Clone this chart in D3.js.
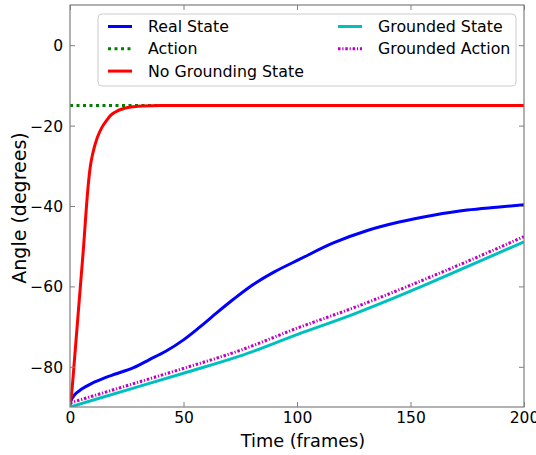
<!DOCTYPE html>
<html>
<head>
<meta charset="utf-8">
<script src="https://cdn.jsdelivr.net/npm/d3@7"></script>
<style>
  body { margin: 0; background: #fff; }
  text { font-family: "DejaVu Sans", sans-serif; fill: #000; }
</style>
</head>
<body>
<div id="chart"></div>
<script>
// Data (time in frames, angle in degrees)
const realTime = [0, 2, 5, 10, 15, 20, 28, 35, 42, 50, 57, 65, 72, 79, 90, 101, 116, 131, 145, 160, 175, 188, 200];
const realState = [-88.8, -87, -85.6, -84, -82.8, -81.8, -80.2, -78.2, -76.2, -73.3, -70.2, -66.4, -63.2, -60.2, -56.4, -53.3, -49.2, -46.1, -44, -42.3, -41, -40.3, -39.7];

const actionTime = [0, 200];
const action = [-15, -15];

const noGroundTime = [0, 1, 2, 3, 4, 5, 6, 7, 8, 9, 10, 12, 14, 16, 18, 20, 24, 28, 32, 40, 200];
const noGroundState = [-90, -85, -78, -71, -64, -57, -50, -42, -35, -30, -27, -23, -20.5, -18.8, -17.4, -16.6, -15.7, -15.3, -15.1, -15, -15];

const groundTime = [0, 25, 50, 75, 100, 125, 150, 175, 200];
const groundedState = [-90, -85.8, -81.6, -77.3, -72, -66.9, -61.2, -55.1, -48.9];
const groundedAction = [-89, -84.7, -80.4, -75.9, -70.4, -65.3, -59.7, -53.8, -47.6];

const xTicks = [0, 50, 100, 150, 200];
const yTicks = [0, -20, -40, -60, -80];

const series = [
    { name: "Real State", t: realTime, v: realState, color: "#0000ff", dash: null },
    { name: "Action", t: actionTime, v: action, color: "#008000", dash: "3,3.5" },
    { name: "No Grounding State", t: noGroundTime, v: noGroundState, color: "#ff0000", dash: null },
    { name: "Grounded State", t: groundTime, v: groundedState, color: "#00bfbf", dash: null },
    { name: "Grounded Action", t: groundTime, v: groundedAction, color: "#bf00bf", dash: "2.5,1.8,1.2,1.8" }
];

const width = 536, height = 455;
const margin = { top: 5, right: 12, bottom: 48, left: 70 };
const w = width - margin.left - margin.right;
const h = height - margin.top - margin.bottom;

const svg = d3.select("#chart").append("svg")
    .attr("width", width)
    .attr("height", height);

const g = svg.append("g")
    .attr("transform", `translate(${margin.left},${margin.top})`);

const x = d3.scaleLinear().domain([0, 200]).range([0, w]);
const y = d3.scaleLinear().domain([-90, 10]).range([h, 0]);

// clip so lines stay inside the frame
g.append("clipPath").attr("id", "clip")
    .append("rect").attr("width", w).attr("height", h);

const line = d3.line().x(d => x(d[0])).y(d => y(d[1])).curve(d3.curveMonotoneX);

// draw order: matplotlib plots these in legend order
series.forEach(s => {
    g.append("path")
        .datum(s.t.map((t, i) => [t, s.v[i]]))
        .attr("clip-path", "url(#clip)")
        .attr("fill", "none")
        .attr("stroke", s.color)
        .attr("stroke-width", 3)
        .attr("stroke-dasharray", s.dash)
        .attr("d", line);
});

// axes with inward ticks on all sides (classic style)
const spine = "#7f7f7f";
const fmt = d => d < 0 ? "\u2212" + Math.abs(d) : String(d);

const axBottom = g.append("g").attr("transform", `translate(0,${h})`)
    .call(d3.axisBottom(x).tickValues(xTicks).tickSizeInner(-5).tickSizeOuter(0).tickPadding(5).tickFormat(fmt));
const axTop = g.append("g")
    .call(d3.axisTop(x).tickValues(xTicks).tickSizeInner(-5).tickSizeOuter(0).tickFormat(""));
const axLeft = g.append("g")
    .call(d3.axisLeft(y).tickValues(yTicks).tickSizeInner(-5).tickSizeOuter(0).tickPadding(7).tickFormat(fmt));
const axRight = g.append("g").attr("transform", `translate(${w},0)`)
    .call(d3.axisRight(y).tickValues(yTicks).tickSizeInner(-5).tickSizeOuter(0).tickFormat(""));

[axBottom, axTop, axLeft, axRight].forEach(a => {
    a.select(".domain").remove();
    a.selectAll("line").attr("stroke", spine);
    a.selectAll("text").attr("font-size", "15.5px").attr("font-family", "DejaVu Sans").attr("fill", "#000");
});
axLeft.selectAll("text").attr("dy", "0.35em");

g.append("rect")
    .attr("width", w).attr("height", h)
    .attr("fill", "none").attr("stroke", spine).attr("stroke-width", 1.2);

// axis labels
svg.append("text")
    .attr("x", 303)
    .attr("y", 447)
    .attr("text-anchor", "middle")
    .attr("font-size", "17.7px")
    .text("Time (frames)");

svg.append("text")
    .attr("transform", `translate(26,${margin.top + h / 2 + 2}) rotate(-90)`)
    .attr("text-anchor", "middle")
    .attr("font-size", "19px")
    .text("Angle (degrees)");

// legend
const legend = svg.append("g");
legend.append("rect")
    .attr("x", 98).attr("y", 14)
    .attr("width", 418).attr("height", 72)
    .attr("rx", 4)
    .attr("fill", "#fff")
    .attr("stroke", "#cccccc");

const cols = [[0, 1, 2], [3, 4]];
const colX = [108, 338];
cols.forEach((idx, c) => {
    idx.forEach((si, r) => {
        const s = series[si];
        const ly = 26.5 + r * 22.3;
        legend.append("line")
            .attr("x1", colX[c]).attr("x2", colX[c] + 24)
            .attr("y1", ly).attr("y2", ly)
            .attr("stroke", s.color)
            .attr("stroke-width", 3)
            .attr("stroke-dasharray", s.dash);
        legend.append("text")
            .attr("x", colX[c] + 40)
            .attr("y", ly)
            .attr("dy", "0.35em")
            .attr("font-size", "15.8px")
            .text(s.name);
    });
});
</script>
</body>
</html>
